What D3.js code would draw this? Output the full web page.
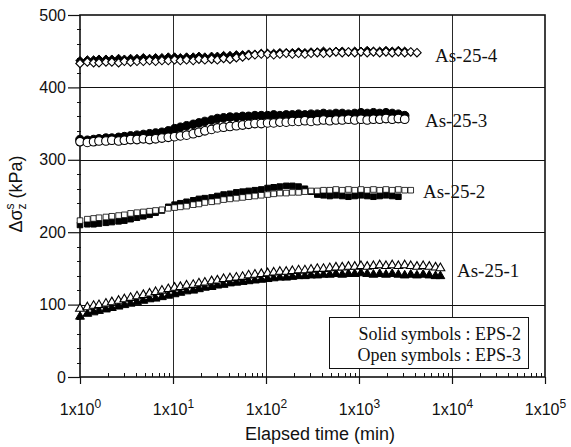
<!DOCTYPE html>
<html>
<head>
<meta charset="utf-8">
<script src="https://cdn.jsdelivr.net/npm/d3@7"></script>
<style>
  html, body { margin: 0; padding: 0; background: #fff; }
  svg { display: block; }
</style>
</head>
<body>
<svg id="chart" width="571" height="447"></svg>
<script>
// Elapsed time (min) shared by all readings
const times = [1, 1.2, 1.4, 1.6, 1.9, 2.2, 2.6, 3, 3.5, 4.1,
  4.8, 5.6, 6.5, 7.6, 8.9, 10.4, 12, 14, 16.5, 19,
  22, 26, 30, 35, 41, 48, 56, 65, 76, 89,
  104, 121, 141, 165, 192, 224, 262, 305, 356, 415,
  485, 565, 660, 770, 900, 1050, 1225, 1430, 1670, 1950,
  2275, 2650, 3100, 3600, 4200, 4900, 5700, 6650, 7500];

// Δσz^s (kPa), solid = EPS-2, open = EPS-3
const as254Solid = [437,438,438,439,439, 439,440,439,440,440, 441,440,441,441,442,
  442,441,442,442,443, 442,443,443,444,444, 445,445,446,446,447, 447,447,448,448,448,
  449,448,449,449,450, 449,450,450,449,450, 450,451,450,450,451, 450,451,450];
const as254Open = [433,435,434,434,435, 435,434,436,435,436, 436,437,436,437,437,
  438,437,438,437,439, 438,439,438,440,439, 441,442,444,445,446, 446,445,446,447,446,
  447,446,447,448,447, 448,449,448,449,448, 449,448,449,448,449, 448,449,448,449,448];

const as253Solid = [328,327,328,329,330, 330,331,332,333,334, 335,336,337,338,340,
  343,345,347,349,351, 353,355,357,358,359, 359,360,360,361,361, 361,362,361,362,362,
  363,362,363,363,364, 363,364,364,363,364, 365,364,365,364,365, 364,363,361];
const as253Open = [325,324,325,326,326, 327,326,327,328,328, 329,328,329,330,331,
  332,333,334,336,338, 340,342,344,345,346, 347,348,349,350,350, 351,351,352,352,353,
  353,354,353,354,355, 354,355,355,356,355, 356,355,356,356,357, 356,357,356];

const as252Solid = [210,211,211,212,213, 214,215,216,218,220, 222,224,227,230,235,
  238,240,242,244,246, 247,248,250,252,253, 255,256,257,258,259, 261,262,263,264,264,
  263,260,256,252,251, 250,251,250,249,250, 251,250,249,250,251, 250,249];
const as252Open = [216,218,219,220,221, 222,223,224,226,227, 228,229,230,231,233,
  234,235,236,238,239, 241,242,243,245,246, 247,248,249,250,251, 252,253,254,254,255,
  255,256,257,257,258, 258,259,258,259,258, 259,258,259,258,259, 258,259,258,258];

const as251Solid = [84,88,90,92,94, 96,98,100,102,104, 106,108,109,111,113,
  115,117,119,120,122, 124,125,127,128,130, 131,132,133,134,135, 136,137,138,138,139,
  140,140,141,141,142, 142,143,142,143,143, 144,143,142,143,142, 143,142,141,142,141,
  142,141,140,140];
const as251Open = [95,97,99,100,102, 104,106,108,110,112, 114,116,118,120,122,
  124,125,127,128,130, 131,133,134,136,137, 138,139,141,142,143, 144,145,146,146,147,
  148,148,149,150,150, 151,152,152,153,153, 154,153,154,155,154, 155,154,155,154,153,
  154,153,152,151];

const seriesNames = ["As-25-4", "As-25-3", "As-25-2", "As-25-1"];
const xTickValues = [1, 10, 100, 1000, 10000, 100000];
const xTickExponents = ["0", "1", "2", "3", "4", "5"];
const yTickValues = [0, 100, 200, 300, 400, 500];
const legendLines = ["Solid symbols : EPS-2", "Open symbols : EPS-3"];

const svg = d3.select("#chart");
const m = { left: 80, right: 545, top: 15, bottom: 377 };

const x = d3.scaleLog().domain([1, 100000]).range([m.left, m.right]);
const y = d3.scaleLinear().domain([0, 500]).range([m.bottom, m.top]);

const sans = "'Liberation Sans', Arial, Helvetica, sans-serif";
const serif = "'Liberation Serif', 'Times New Roman', Times, serif";

// grid
const grid = svg.append("g").attr("stroke", "#111").attr("stroke-width", 1);
grid.selectAll("line.h").data(yTickValues.slice(1, -1)).join("line")
  .attr("x1", m.left).attr("x2", m.right)
  .attr("y1", d => Math.round(y(d)) + 0.5).attr("y2", d => Math.round(y(d)) + 0.5);
grid.selectAll("line.v").data(xTickValues.slice(1, -1)).join("line")
  .attr("stroke-width", 0.9)
  .attr("y1", m.top).attr("y2", m.bottom)
  .attr("x1", d => Math.round(x(d)) + 0.5).attr("x2", d => Math.round(x(d)) + 0.5);

// minor ticks: y every 20 kPa, x at 2..9 of each decade
const yMinor = d3.range(0, 501, 20).filter(v => v % 100 !== 0);
svg.append("g").attr("stroke", "#111").attr("stroke-width", 1)
  .selectAll("line").data(yMinor).join("line")
  .attr("x1", m.left - 3).attr("x2", m.left + 1)
  .attr("y1", d => Math.round(y(d)) + 0.5).attr("y2", d => Math.round(y(d)) + 0.5);
const xMinor = [];
for (let e = 0; e < 5; e++) for (let k = 2; k <= 9; k++) xMinor.push(k * Math.pow(10, e));
svg.append("g").attr("stroke", "#111").attr("stroke-width", 1)
  .selectAll("line").data(xMinor).join("line")
  .attr("y1", m.bottom - 4).attr("y2", m.bottom)
  .attr("x1", d => Math.round(x(d)) + 0.5).attr("x2", d => Math.round(x(d)) + 0.5);

// axes
const yAxis = d3.axisLeft(y).tickValues(yTickValues).tickSize(12).tickPadding(2).tickFormat(d3.format("d"));
const gy = svg.append("g").attr("transform", `translate(${m.left},0)`).call(yAxis);
gy.select(".domain").remove();
gy.selectAll(".tick line").attr("stroke", "#111").attr("stroke-width", 1.2);
gy.selectAll(".tick text").attr("font-family", sans).attr("font-size", 16).attr("fill", "#111");

const xAxis = d3.axisBottom(x).tickValues(xTickValues).tickSize(7).tickFormat(() => "");
const gx = svg.append("g").attr("transform", `translate(0,${m.bottom})`).call(xAxis);
gx.select(".domain").remove();
gx.selectAll(".tick line").attr("stroke", "#111").attr("stroke-width", 1.2);
gx.selectAll(".tick").each(function(d, i) {
  const t = d3.select(this).append("text")
    .attr("y", 38).attr("text-anchor", "middle")
    .attr("font-family", sans).attr("font-size", 16).attr("fill", "#111");
  t.append("tspan").text("1x10");
  t.append("tspan").attr("dy", -7).attr("font-size", 12).text(xTickExponents[i]);
});

// frame
svg.append("rect")
  .attr("x", m.left).attr("y", m.top)
  .attr("width", m.right - m.left).attr("height", m.bottom - m.top)
  .attr("fill", "none").attr("stroke", "#111").attr("stroke-width", 1.6);

// marker shapes
const shapes = {
  diamond: (cx, cy) => `M${cx},${cy - 4.2}L${cx + 4.2},${cy}L${cx},${cy + 4.2}L${cx - 4.2},${cy}Z`,
  circle: (cx, cy) => `M${cx - 4.3},${cy}a4.3,4.3 0 1,0 8.6,0a4.3,4.3 0 1,0 -8.6,0Z`,
  square: (cx, cy) => `M${cx - 2.8},${cy - 2.8}h5.6v5.6h-5.6Z`,
  triangle: (cx, cy) => `M${cx},${cy - 4.6}L${cx + 4.4},${cy + 3}L${cx - 4.4},${cy + 3}Z`
};

const groups = [
  { shape: "diamond", solid: as254Solid, open: as254Open },
  { shape: "circle", solid: as253Solid, open: as253Open },
  { shape: "square", solid: as252Solid, open: as252Open },
  { shape: "triangle", solid: as251Solid, open: as251Open }
];

const marks = svg.append("g");
groups.forEach(g => {
  const solidPts = g.solid.map((v, i) => [times[i], v]);
  const openPts = g.open.map((v, i) => [times[i], v]);
  marks.append("g").selectAll("path").data(solidPts).join("path")
    .attr("d", d => shapes[g.shape](x(d[0]), y(d[1])))
    .attr("fill", "#000").attr("stroke", "#000").attr("stroke-width", 1);
  marks.append("g").selectAll("path").data(openPts).join("path")
    .attr("d", d => shapes[g.shape](x(d[0]), y(d[1])))
    .attr("fill", "#fff").attr("stroke", "#000")
    .attr("stroke-width", g.shape === "square" ? 0.8 : 1.1);
});

// series labels
const labelPos = [[435, 62], [425, 127], [423, 198], [457, 277]];
svg.append("g").selectAll("text").data(seriesNames).join("text")
  .attr("x", (d, i) => labelPos[i][0]).attr("y", (d, i) => labelPos[i][1])
  .attr("font-family", serif).attr("font-size", 19).attr("fill", "#111")
  .text(d => d);

// legend box
const lg = svg.append("g");
lg.append("rect").attr("x", 329.5).attr("y", 317.5).attr("width", 199).attr("height", 51)
  .attr("fill", "#fff").attr("stroke", "#111").attr("stroke-width", 1);
lg.selectAll("text").data(legendLines).join("text")
  .attr("x", 521).attr("y", (d, i) => 340 + i * 21)
  .attr("text-anchor", "end")
  .attr("font-family", serif).attr("font-size", 18).attr("fill", "#111")
  .text(d => d);

// axis titles
svg.append("text")
  .attr("x", 320).attr("y", 440)
  .attr("text-anchor", "middle")
  .attr("font-family", sans).attr("font-size", 18).attr("fill", "#111")
  .text("Elapsed time (min)");

const yt = svg.append("text")
  .attr("transform", "translate(22,194) rotate(-90)")
  .attr("text-anchor", "middle")
  .attr("font-family", sans).attr("font-size", 18).attr("fill", "#111");
yt.append("tspan").text("Δσ");
yt.append("tspan").attr("font-size", 12).attr("dy", 4).text("z");
yt.append("tspan").attr("font-size", 12).attr("dx", -6).attr("dy", -12).text("s");
yt.append("tspan").attr("dy", 8).text(" (kPa)");
</script>
</body>
</html>
